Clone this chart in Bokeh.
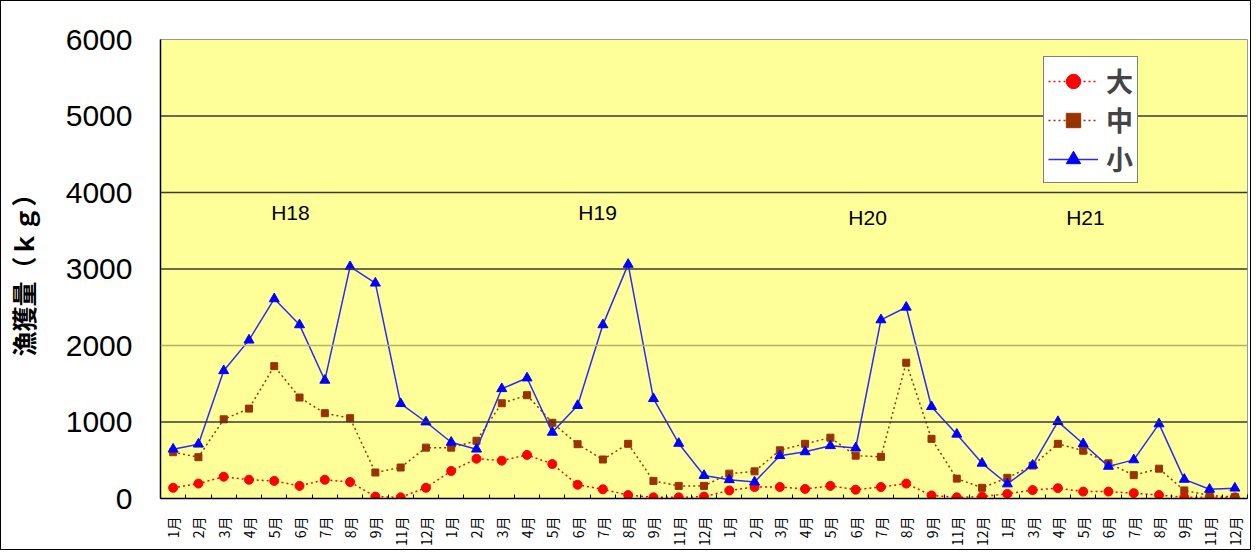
import math
from bokeh.plotting import figure
from bokeh.models import ColumnDataSource, FixedTicker, Legend, LegendItem, Span, Label
from bokeh.embed import file_html
from bokeh.resources import INLINE

months = ["1月", "2月", "3月", "4月", "5月", "6月", "7月", "8月", "9月", "11月", "12月"] * 3 + \
         ["1月", "3月", "4月", "5月", "6月", "7月", "8月", "9月", "11月", "12月"]

large = [140, 195, 285, 245, 230, 165, 245, 215, 25, 15, 140,
         360, 520, 495, 570, 450, 180, 120, 45, 15, 15, 25,
         105, 150, 150, 125, 165, 115, 150, 195, 40, 15, 25,
         60, 110, 135, 90, 90, 70, 45, 15, 15, 15]

medium = [605, 540, 1035, 1175, 1730, 1320, 1115, 1050, 340, 405, 665,
          665, 755, 1245, 1350, 990, 710, 510, 715, 230, 165, 165,
          325, 355, 630, 715, 795, 560, 545, 1775, 780, 260, 140,
          270, 430, 715, 625, 460, 305, 390, 105, 40, 20]

small = [645, 710, 1670, 2070, 2610, 2270, 1545, 3030, 2815, 1240, 1000,
         735, 645, 1435, 1575, 865, 1215, 2270, 3060, 1305, 720, 300,
         245, 215, 560, 610, 690, 660, 2335, 2500, 1200, 840, 460,
         190, 435, 1005, 715, 420, 505, 975, 250, 120, 135]

y_ticks = [0, 1000, 2000, 3000, 4000, 5000, 6000]
series_names = ["大", "中", "小"]
year_labels = ["H18", "H19", "H20", "H21"]
year_label_x = [4.64, 16.79, 27.47, 36.09]
year_label_y = [3740, 3740, 3670, 3670]

x = list(range(len(months)))
src = ColumnDataSource(dict(x=x, large=large, medium=medium, small=small))

p = figure(frame_width=1087, frame_height=459,
           min_border_left=152, min_border_right=3, min_border_top=38, min_border_bottom=50,
           x_range=(-0.5, len(months) - 0.5), y_range=(0, 6000),
           output_backend="svg", toolbar_location=None)
p.styles = {"border": "1px solid #000"}
p.background_fill_color = "#FFFF99"
p.border_fill_color = "white"
p.outline_line_color = "#9a9a9a"
p.xgrid.grid_line_color = None
p.ygrid.grid_line_color = None

for v in y_ticks[1:-1]:
    p.add_layout(Span(location=v, dimension="width",
                      line_color="#b8b070" if v in (2000,) else "#3a3a3a", line_width=1.5))

# y axis
p.yaxis.ticker = FixedTicker(ticks=y_ticks)
p.yaxis.major_tick_out = 0
p.yaxis.major_tick_in = 0
p.yaxis.minor_tick_line_color = None
p.yaxis.axis_line_color = "black"
p.yaxis.axis_line_width = 1.5
p.yaxis.major_label_text_font = "Liberation Sans"
p.yaxis.major_label_text_font_size = "30px"
p.yaxis.major_label_text_color = "black"
p.yaxis.major_label_standoff = 28
p.yaxis.axis_label = "漁獲量（ｋｇ）"
p.yaxis.axis_label_text_font = "Noto Sans CJK JP"
p.yaxis.axis_label_text_font_size = "25px"
p.yaxis.axis_label_text_font_style = "bold"
p.yaxis.axis_label_text_color = "black"
p.yaxis.axis_label_standoff = 22

# x axis
p.xaxis.ticker = FixedTicker(ticks=x, minor_ticks=[i - 0.5 for i in range(len(months) + 1)])
p.xaxis.major_label_overrides = {i: m for i, m in enumerate(months)}
p.xaxis.major_label_orientation = math.pi / 2
p.xaxis.major_tick_line_color = None
p.xaxis.minor_tick_in = 4
p.xaxis.minor_tick_out = 0
p.xaxis.minor_tick_line_color = "black"
p.xaxis.axis_line_color = "black"
p.xaxis.axis_line_width = 1.5
p.xaxis.major_label_standoff = 12
p.xaxis.major_label_text_font = "Noto Sans CJK JP"
p.xaxis.major_label_text_font_size = "14px"
p.xaxis.major_label_text_color = "black"

# series
l1 = p.line("x", "large", source=src, line_color="#FF0000", line_width=1.5, line_dash="2 3")
m1 = p.scatter("x", "large", source=src, marker="circle", size=9, fill_color="#FF0000", line_color="#FF0000")
l2 = p.line("x", "medium", source=src, line_color="#993300", line_width=1.5, line_dash="2 3")
m2 = p.scatter("x", "medium", source=src, marker="square", size=7, fill_color="#993300", line_color="#993300")
l3 = p.line("x", "small", source=src, line_color="#2a2aff", line_width=1.5)
m3 = p.scatter("x", "small", source=src, marker="triangle", size=10, fill_color="#0000FF", line_color="#0000FF")

for t, lx, ly in zip(year_labels, year_label_x, year_label_y):
    p.add_layout(Label(x=lx, y=ly, text=t, text_align="center", text_baseline="middle",
                       text_font="Liberation Sans", text_font_size="21px", text_color="black"))

legend = Legend(items=[LegendItem(label=series_names[0], renderers=[l1, m1]),
                       LegendItem(label=series_names[1], renderers=[l2, m2]),
                       LegendItem(label=series_names[2], renderers=[l3, m3])],
                location=(883, 315))
legend.border_line_color = "black"
legend.border_line_width = 1
legend.background_fill_color = "white"
legend.background_fill_alpha = 1
legend.label_text_font = "Noto Sans CJK JP"
legend.label_text_font_size = "27px"
legend.label_text_font_style = "bold"
legend.label_height = 36
legend.glyph_height = 36
legend.glyph_width = 50
legend.label_standoff = 8
legend.padding = 4
legend.spacing = 0
legend.margin = 0
p.add_layout(legend)

open("out.html", "w").write(file_html(p, INLINE))
